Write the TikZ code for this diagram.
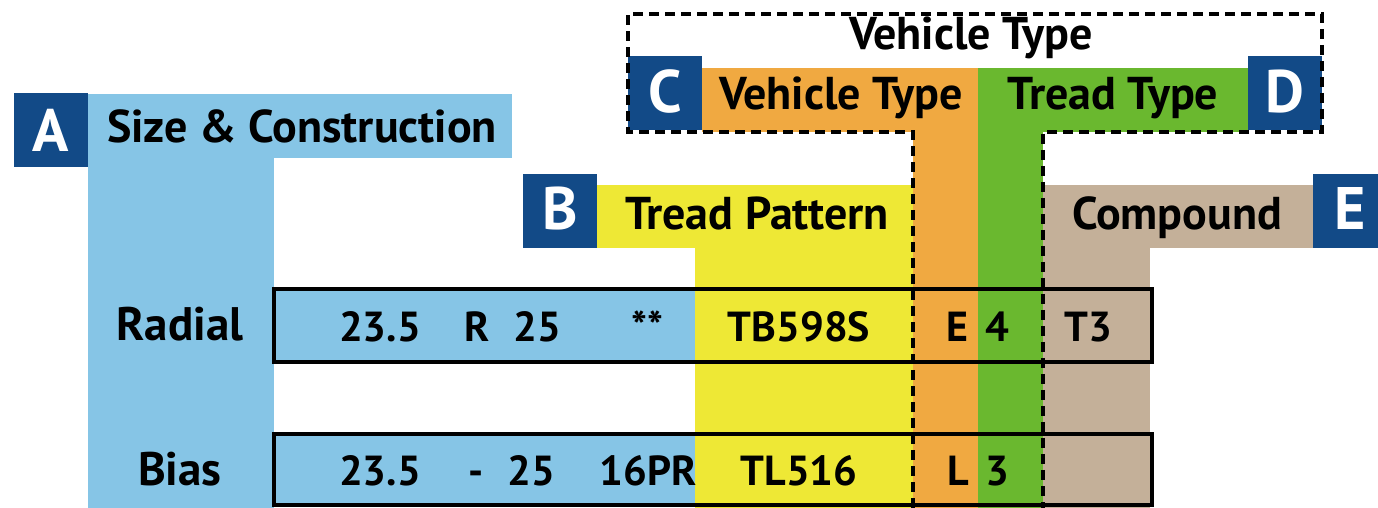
\documentclass[tikz,border=0pt]{standalone}
\usepackage{fontspec}
\setmainfont{PT Sans}
\usepackage{xcolor}
\usetikzlibrary{positioning}

\definecolor{skyblue}{HTML}{86C5E6}
\definecolor{tagblue}{HTML}{124A87}
\definecolor{padyellow}{HTML}{EEE835}
\definecolor{vehorange}{HTML}{F0A941}
\definecolor{treadgreen}{HTML}{6AB82F}
\definecolor{cmptan}{HTML}{C4B099}

\begin{document}
\begin{tikzpicture}[
  x=0.5pt, y=-0.5pt,
  hdr/.style={font=\fontsize{23}{25}\selectfont\bfseries, inner sep=0pt, anchor=base},
  tag/.style={fill=tagblue, minimum size=37pt, inner sep=0pt},
  tagtxt/.style={font=\fontsize{30}{31}\selectfont\bfseries, text=white, inner sep=0pt, anchor=base},
  side/.style={font=\fontsize{23.5}{25}\selectfont\bfseries, inner sep=0pt, anchor=base},
  val/.style={font=\fontsize{21}{23}\selectfont\bfseries, inner sep=0pt, anchor=base},
  rowbox/.style={draw, line width=1.8pt},
  dsh/.style={dashed, dash pattern=on 5pt off 3pt, line width=1.6pt}
]
\useasboundingbox (0,0) rectangle (1378,508);
% ---------------- colour bands
\fill[skyblue] (88,94) rectangle (512,158);
\fill[skyblue] (88,94) rectangle (274,508);
\fill[skyblue] (274,289) rectangle (695,362);
\fill[skyblue] (274,434) rectangle (695,505);
\fill[padyellow] (597,185) rectangle (913,248);
\fill[padyellow] (695,185) rectangle (913,508);
\fill[vehorange] (702,68) rectangle (978,132);
\fill[vehorange] (913,68) rectangle (978,508);
\fill[treadgreen] (978,68) rectangle (1248,132);
\fill[treadgreen] (978,68) rectangle (1043,508);
\fill[cmptan] (1043,185) rectangle (1313,248);
\fill[cmptan] (1043,185) rectangle (1150,508);
% ---------------- letter tags
\node[tag] (tagA) at (51,130.5) {};
\node[tag] (tagB) at (560,211.5) {};
\node[tag] (tagC) at (665,93.5) {};
\node[tag] (tagD) at (1285,93.5) {};
\node[tag] (tagE) at (1350,211.5) {};
\node[tagtxt] (ltrA) at (51,152) {A};
\node[tagtxt] (ltrB) at (560,230) {B};
\node[tagtxt] (ltrC) at (665,113) {C};
\node[tagtxt] (ltrD) at (1285,113) {D};
\node[tagtxt] (ltrE) at (1350,230) {E};
% ---------------- dashed vehicle type outline
\draw[dsh] (913,508) -- (913,132) -- (628,132) -- (628,14) -- (1322,14)
  -- (1322,132) -- (1043,132) -- (1043,508);
% ---------------- row frames
\draw[rowbox] (274,289) rectangle (1152,362);
\draw[rowbox] (274,434) rectangle (1152,505);
% ---------------- headings
\node[hdr] (size) at (302,143) {Size \& Construction};
\node[hdr] (pat) at (757,230) {Tread Pattern};
\node[hdr] (veh) at (841,110) {Vehicle Type};
\node[hdr] (tread) at (1113,110) {Tread Type};
\node[hdr] (comp) at (1177,230) {Compound};
\node[hdr] (vehtop) at (971,50) {Vehicle Type};
% ---------------- radial row
\node[side] (radial) at (180,340) {Radial};
\node[val] (rw) at (380,342) {23.5};
\node[val] (rc) at (477,342) {R};
\node[val] (rd) at (537,342) {25};
\node[val] (rs) at (647,342) {**};
\node[val] (rp) at (799,342) {TB598S};
\node[val] (rv) at (957,342) {E};
\node[val] (rt) at (997,342) {4};
\node[val] (rk) at (1088,342) {T3};
% ---------------- bias row
\node[side] (bias) at (180,485) {Bias};
\node[val] (bw) at (380,485) {23.5};
\node[val] (bc) at (476,485) {-};
\node[val] (bd) at (531,485) {25};
\node[val] (bs) at (648,485) {16PR};
\node[val] (bp) at (799,485) {TL516};
\node[val] (bv) at (958,485) {L};
\node[val] (bt) at (997,485) {3};
\end{tikzpicture}
\end{document}
